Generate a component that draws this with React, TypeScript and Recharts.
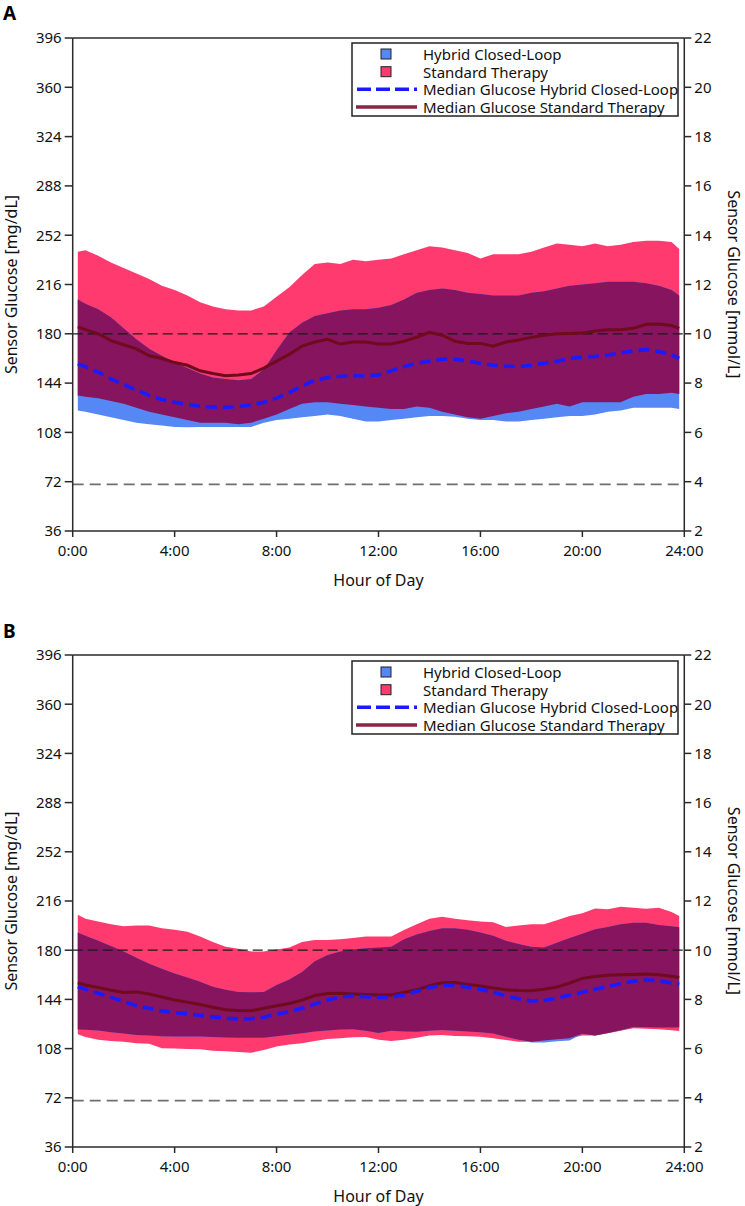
import { Area, ComposedChart, Line, ReferenceLine, XAxis, YAxis } from 'recharts'

// time of day in hours (bin centres)
const HOURS = [
  0.2, 0.5, 1, 1.5, 2, 2.5, 3, 3.5, 4, 4.5, 5, 5.5, 6, 6.5, 7, 7.5, 8, 8.5, 9, 9.5, 10, 10.5, 11, 11.5,
  12, 12.5, 13, 13.5, 14, 14.5, 15, 15.5, 16, 16.5, 17, 17.5, 18, 18.5, 19, 19.5, 20, 20.5, 21, 21.5,
  22, 22.5, 23, 23.5, 23.8,
]

const X_TICKS = [0, 4, 8, 12, 16, 20, 24]
const MGDL_TICKS = [36, 72, 108, 144, 180, 216, 252, 288, 324, 360, 396]
const MMOL_TICKS = [2, 4, 6, 8, 10, 12, 14, 16, 18, 20, 22]
const TARGET_HIGH = 180
const TARGET_LOW = 70

const LEGEND_LABELS = [
  'Hybrid Closed-Loop',
  'Standard Therapy',
  'Median Glucose Hybrid Closed-Loop',
  'Median Glucose Standard Therapy',
]

// ---- panel A ----
const hclLoA = [
  124, 123, 121, 119, 117, 115, 114, 113, 112, 111.7, 112, 112, 112, 112, 112, 115, 117, 118, 119, 120, 121, 120, 118, 116,
  116, 117, 118, 119, 120, 120, 119.5, 118, 117, 117, 116, 116, 117, 118, 119, 120, 120, 121, 123, 124,
  126, 126, 126, 126, 125,
]
const hclHiA = [
  205, 202, 198, 192, 184, 176, 169, 164, 159, 155, 151, 148, 147, 146, 147, 154, 168, 181, 188, 193, 195, 197, 198, 198,
  199, 201, 205, 210, 212, 213, 212, 210, 209, 208, 208, 208, 210, 211, 213, 215, 216, 217, 218, 218,
  218, 217, 215, 212, 208,
]
const stLoA = [
  135, 134, 133, 131, 129, 126, 123, 121, 119, 117, 115, 115, 115, 114, 115, 118, 121, 125, 129, 130, 130, 129, 128, 127,
  126, 125, 125, 127, 126, 123, 121, 119, 118, 120, 122, 123, 125, 127, 129, 127, 130, 130, 130, 130,
  134, 136, 136, 137, 136,
]
const stHiA = [
  240, 241, 237, 232, 228, 224, 220, 215, 212, 208, 203, 200, 198, 197, 197, 200, 207, 214, 223, 231, 232, 231, 234, 233,
  234, 235, 238, 241, 244, 243, 241, 239, 235, 238, 238, 238, 240, 243, 246, 245, 244, 246, 244, 245,
  247, 248, 248, 247, 242,
]
const hclMedA = [
  158, 156, 152, 147, 143, 139, 135, 132, 130, 128.5, 127, 126.5, 126.3, 127, 128, 130, 133, 137, 142, 146, 148, 149, 149.4, 149.2,
  150, 153, 156, 158.5, 160, 161.5, 161.5, 160, 158.5, 157, 156.3, 156, 157, 158.5, 160, 162, 163, 163.5, 164.5, 166,
  167.5, 168.5, 167, 164.5, 162,
]
const stMedA = [
  185, 183, 180, 175, 172, 169, 164, 162, 159, 157, 153, 151, 149.3, 150, 151, 155, 160, 165, 171, 174, 176, 172.5, 174, 174,
  172.6, 172.6, 174.5, 177.5, 181, 179, 174.5, 173, 173, 171, 174, 175.5, 177.4, 179, 180, 180.3, 180.5, 182, 183, 183,
  184, 187, 187.2, 186, 184,
]

// ---- panel B ----
const hclLoB = [
  122, 121.8, 121.2, 120, 119, 118, 117.5, 117, 116.8, 116.8, 116.8, 116.5, 116.2, 116, 116, 116, 117, 118.2, 119.3, 120.5, 121.3, 122, 122.1, 121,
  119.5, 121, 120.5, 120.4, 121, 121.6, 121, 120.5, 120, 119, 116.7, 114.5, 112.5, 112.5, 113.3, 114, 118.8, 117.5, 119.5, 121.5,
  123.8, 123.6, 123.5, 123.4, 123.4,
]
const hclHiB = [
  193, 190.5, 187, 183, 179, 174.5, 170, 166.5, 163, 160, 157, 153.3, 151, 149.5, 149.2, 149.5, 154.5, 158.5, 164, 172, 176.5, 179, 180.5, 181.5,
  182, 182.5, 188, 191.5, 194, 196, 196, 195, 193, 190.5, 187, 184.5, 182.6, 182, 185.5, 189, 192, 195.3, 197, 199,
  200, 200, 198.5, 197.5, 196.8,
]
const stLoB = [
  118.5, 116.5, 114.5, 113.5, 113, 112, 111.5, 108.3, 108, 107.7, 107.5, 106.5, 106, 105.5, 105, 107, 109.5, 111, 112, 113.5, 115, 115.5, 116.3, 116.5,
  114.5, 113.5, 114.5, 116, 117.5, 118, 117.3, 117, 116.7, 115.5, 114.3, 113, 113, 114, 114.8, 115.5, 117.5, 117.5, 119.2, 121,
  122.9, 122.5, 122.1, 121.5, 120.9,
]
const stHiB = [
  206, 203, 201, 199, 197.5, 198, 198, 196, 195, 193.5, 190, 186, 182.5, 181, 179, 179, 180.5, 182, 186, 187.5, 187.5, 188, 189, 190,
  190, 190, 194.8, 199, 203, 204.5, 203, 202, 201, 200.5, 197, 198, 199, 199, 202, 205, 207, 210.5, 210, 211.8,
  211, 210.3, 211, 208, 205,
]
const hclMedB = [
  153.3, 151.5, 148.5, 145.5, 142.5, 139.4, 137.5, 135.5, 134.4, 133.4, 132.3, 131.2, 130.3, 129.7, 129.8, 131, 133.3, 135, 137.5, 140.7, 143.5, 145.8, 146.5, 146,
  145.5, 145.5, 147.3, 150, 152.5, 154.5, 154.3, 153, 151.5, 149.3, 146.5, 144.5, 142.8, 143.2, 145, 147.2, 149.3, 151.5, 153.5, 155.5,
  157.3, 158.2, 157.6, 156, 155,
]
const stMedB = [
  156.2, 154.5, 152.7, 150.7, 149, 149.5, 148, 145.7, 143.5, 142, 140.2, 138.3, 136.5, 135.8, 135.7, 137.5, 139.4, 141, 143.5, 146.8, 148.3, 148.5, 148, 147.6,
  147.2, 147.2, 149, 151, 154, 156.2, 156.3, 155, 153.8, 152.3, 151, 150.5, 150.4, 151.5, 153, 156, 159.4, 160.8, 161.7, 162,
  162.3, 162.6, 162, 161, 160,
]

const FONT = "'Noto Sans', sans-serif"
const C_HCL = '#5587f5'
const C_ST = '#ff3a6e'
const C_BOTH = '#87145f'
const C_HCL_MED = '#1a1aff'
const C_ST_MED = '#6e0b1c'
const C_ST_MED_LEGEND = '#8b2344'
const AXIS = '#2a2a2a'

function buildRows(
  hclLo: number[],
  hclHi: number[],
  stLo: number[],
  stHi: number[],
  hclMed: number[],
  stMed: number[],
) {
  return HOURS.map((t, i) => ({
    t,
    hcl: [hclLo[i], hclHi[i]],
    st: [stLo[i], stHi[i]],
    both: [Math.max(hclLo[i], stLo[i]), Math.min(hclHi[i], stHi[i])],
    hclMed: hclMed[i],
    stMed: stMed[i],
  }))
}

const rowsA = buildRows(hclLoA, hclHiA, stLoA, stHiA, hclMedA, stMedA)
const rowsB = buildRows(hclLoB, hclHiB, stLoB, stHiB, hclMedB, stMedB)

function GlucoseLegend({ top }: { top: number }) {
  const rowY = [11, 28.7, 46.3, 64]
  return (
    <svg
      width={328}
      height={75}
      style={{ position: 'absolute', left: 351, top: top - 1 }}
      fontFamily={FONT}
      fontSize={15}
    >
      <rect x={1} y={1} width={326} height={73} fill="#fff" stroke="#222" strokeWidth={1.5} />
      <rect x={30} y={rowY[0] - 4} width={10} height={10} fill={C_HCL} stroke="#222" strokeWidth={1} />
      <rect x={30} y={rowY[1] - 4} width={10} height={10} fill={C_ST} stroke="#222" strokeWidth={1} />
      <line x1={6} x2={66} y1={rowY[2] + 1} y2={rowY[2] + 1} stroke={C_HCL_MED} strokeWidth={3.5} strokeDasharray="14 5" />
      <line x1={5} x2={66} y1={rowY[3] + 1} y2={rowY[3] + 1} stroke={C_ST_MED_LEGEND} strokeWidth={3.5} />
      {LEGEND_LABELS.map((label, i) => (
        <text key={label} x={72} y={rowY[i] + 1} dominantBaseline="central" fill="#111">
          {label}
        </text>
      ))}
    </svg>
  )
}

function PanelTitle({ text, top }: { text: string; top: number }) {
  return (
    <div
      style={{
        position: 'absolute',
        left: 3,
        top,
        fontFamily: FONT,
        fontWeight: 700,
        fontSize: 19,
        lineHeight: '19px',
        color: '#000',
      }}
    >
      {text}
    </div>
  )
}

function GlucosePanel({
  rows,
  top,
  height,
  marginTop,
  marginBottom,
}: {
  rows: ReturnType<typeof buildRows>
  top: number
  height: number
  marginTop: number
  marginBottom: number
}) {
  const tickStyle = { fontFamily: FONT, fontSize: 15, fill: '#111' }
  return (
    <div style={{ position: 'absolute', left: 0, top }}>
      <ComposedChart
        width={745}
        height={height}
        data={rows}
        margin={{ top: marginTop, right: 10.7, bottom: marginBottom, left: 12.7 }}
      >
        <XAxis
          dataKey="t"
          type="number"
          domain={[0, 24]}
          ticks={X_TICKS}
          tickFormatter={(h: number) => `${h}:00`}
          tick={tickStyle}
          tickSize={6}
          tickMargin={8}
          height={30}
          stroke={AXIS}
          strokeWidth={1.5}
          label={{
            content: ({ viewBox }: any) => (
              <text
                x={viewBox.x + viewBox.width / 2}
                y={viewBox.y + 49}
                textAnchor="middle"
                dominantBaseline="central"
                fontFamily={FONT}
                fontSize={16}
                fill="#111"
              >
                Hour of Day
              </text>
            ),
          }}
        />
        <YAxis
          yAxisId="mg"
          domain={[36, 396]}
          ticks={MGDL_TICKS}
          type="number"
          interval={0}
          allowDataOverflow
          width={60}
          tick={tickStyle}
          tickSize={8}
          tickMargin={3}
          stroke={AXIS}
          strokeWidth={1.5}
          label={{
            content: ({ viewBox }: any) => (
              <text
                x={10.5}
                y={viewBox.y + viewBox.height / 2}
                transform={`rotate(-90 10.5 ${viewBox.y + viewBox.height / 2})`}
                textAnchor="middle"
                dominantBaseline="central"
                fontFamily={FONT}
                fontSize={16}
                fill="#111"
              >
                Sensor Glucose [mg/dL]
              </text>
            ),
          }}
        />
        <YAxis
          yAxisId="mmol"
          orientation="right"
          domain={[2, 22]}
          ticks={MMOL_TICKS}
          type="number"
          interval={0}
          allowDataOverflow
          width={50}
          tick={tickStyle}
          tickSize={7}
          tickMargin={3}
          stroke={AXIS}
          strokeWidth={1.5}
          label={{
            content: ({ viewBox }: any) => (
              <text
                x={734}
                y={viewBox.y + viewBox.height / 2}
                transform={`rotate(90 734 ${viewBox.y + viewBox.height / 2})`}
                textAnchor="middle"
                dominantBaseline="central"
                fontFamily={FONT}
                fontSize={16}
                fill="#111"
              >
                Sensor Glucose [mmol/L]
              </text>
            ),
          }}
        />
        <Area yAxisId="mg" type="linear" dataKey="st" fill={C_ST} fillOpacity={1} stroke="none" isAnimationActive={false} />
        <Area yAxisId="mg" type="linear" dataKey="hcl" fill={C_HCL} fillOpacity={1} stroke="none" isAnimationActive={false} />
        <Area yAxisId="mg" type="linear" dataKey="both" fill={C_BOTH} fillOpacity={1} stroke="none" isAnimationActive={false} />
        <ReferenceLine yAxisId="mg" y={TARGET_HIGH} stroke="#1a1a1a" strokeWidth={1.2} strokeDasharray="10 5" />
        <ReferenceLine yAxisId="mg" y={TARGET_LOW} stroke="#6f6f6f" strokeWidth={1.7} strokeDasharray="11 6" />
        <ReferenceLine yAxisId="mg" y={396} stroke={AXIS} strokeWidth={1.5} />
        <Line yAxisId="mg" type="linear" dataKey="stMed" stroke={C_ST_MED} strokeWidth={3} dot={false} isAnimationActive={false} />
        <Line
          yAxisId="mg"
          type="linear"
          dataKey="hclMed"
          stroke={C_HCL_MED}
          strokeWidth={3.6}
          strokeDasharray="11 6"
          dot={false}
          isAnimationActive={false}
        />
      </ComposedChart>
    </div>
  )
}

export default function App() {
  return (
    <div
      style={{
        position: 'absolute',
        left: 0,
        top: 0,
        width: 745,
        height: 1206,
        overflow: 'hidden',
        background: '#fff',
      }}
    >
      <GlucosePanel rows={rowsA} top={0} height={600} marginTop={38} marginBottom={39} />
      <GlucosePanel rows={rowsB} top={616} height={590} marginTop={39} marginBottom={29} />
      <GlucoseLegend top={43} />
      <GlucoseLegend top={660.7} />
      <PanelTitle text="A" top={4} />
      <PanelTitle text="B" top={622} />
    </div>
  )
}
